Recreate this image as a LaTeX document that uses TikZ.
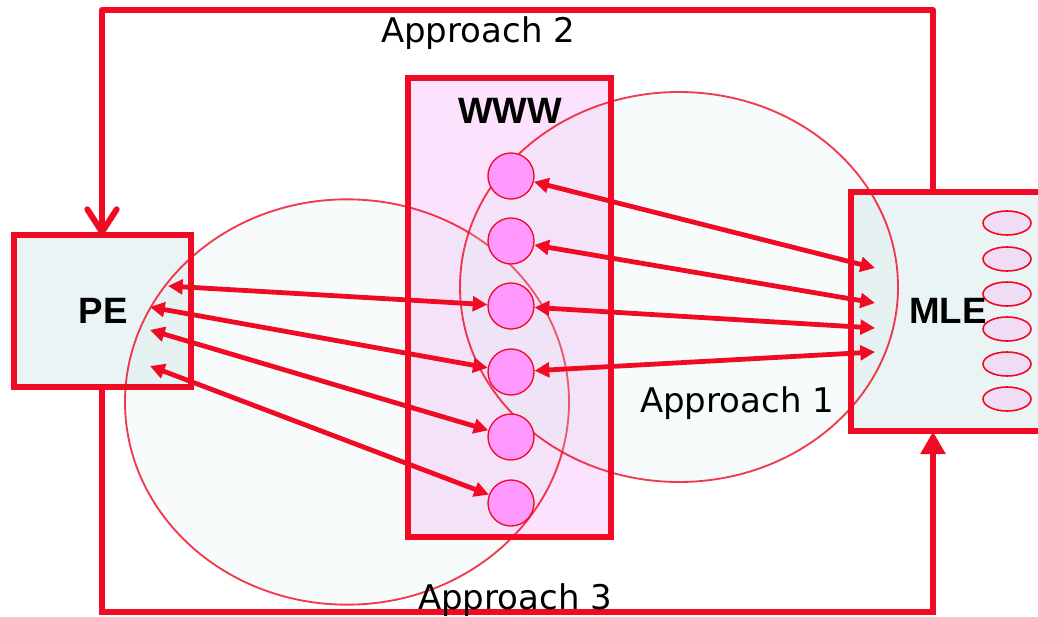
\documentclass[tikz,border=0pt]{standalone}
\usepackage{fontspec}
\setmainfont{DejaVu Sans}
\newfontfamily\boldfam{Liberation Sans}
\usetikzlibrary{arrows.meta,shapes.geometric}
\definecolor{rd}{RGB}{240,10,35}
\definecolor{boxfill}{RGB}{234,244,244}
\definecolor{wwwfill}{RGB}{252,226,252}
\definecolor{circfill}{RGB}{255,153,255}
\definecolor{smallfill}{RGB}{240,220,245}
\definecolor{bigfill}{RGB}{215,235,235}
\begin{document}
\begin{tikzpicture}[x=0.75pt,y=-0.75pt,
  boxnode/.style={rectangle, inner sep=0pt, outer sep=0pt, fill=#1},
  boxline/.style={draw=rd, line width=4.5pt},
  bigell/.style={draw=rd, draw opacity=0.8, line width=1.4pt, fill=bigfill, fill opacity=0.2},
  site/.style={circle, draw=rd, line width=1pt, fill=circfill, minimum size=34.5pt, inner sep=0pt},
  slot/.style={ellipse, draw=rd, line width=1.2pt, fill=smallfill, minimum width=36pt, minimum height=18pt, inner sep=0pt},
  link/.style={draw=rd, line width=3.6pt, {Triangle[length=11pt,width=11pt]}-{Triangle[length=11pt,width=11pt]}},
  loopline/.style={draw=rd, line width=4.5pt},
  heading/.style={font=\boldfam\bfseries\fontsize{27.5pt}{30pt}\selectfont, inner sep=0pt},
  lab/.style={font=\fontsize{25.5pt}{28pt}\selectfont, inner sep=0pt}
]
\useasboundingbox (0,0) rectangle (1038,617);
\clip (0,0) rectangle (1038,617);

% box fills
\node[boxnode=boxfill, minimum width=132.4pt, minimum height=114pt] (PE) at (102.25,311) {};
\node[boxnode=wwwfill, minimum width=151.9pt, minimum height=344.25pt] (WWW) at (509.25,307.5) {};
\node[boxnode=boxfill, minimum width=156.4pt, minimum height=179.6pt] (MLE) at (955.75,311.75) {};

% big ellipses
\path[bigell] (347,402) ellipse [x radius=166.5pt, y radius=152pt];
\path[bigell] (679,287) ellipse [x radius=164.25pt, y radius=146.25pt];

% box borders
\draw[boxline] (PE.south west) rectangle (PE.north east);
\draw[boxline] (WWW.south west) rectangle (WWW.north east);
\draw[boxline] (MLE.south west) rectangle (MLE.north east);

% sites
\foreach \i/\yy in {1/176,2/241,3/306,4/372,5/437,6/503}
  \node[site] (c\i) at (511,\yy) {};
\foreach \i/\yy in {1/223,2/259,3/294,4/329,5/364,6/399}
  \node[slot] (s\i) at (1007,\yy) {};

% arrow ends
\coordinate (p1) at (168,286);
\coordinate (p2) at (150,307);
\coordinate (p3) at (150,330);
\coordinate (p4) at (150,366);
\coordinate (m1) at (875,268);
\coordinate (m2) at (875,303);
\coordinate (m3) at (875,328);
\coordinate (m4) at (875,352);

\draw[link] (p1) -- (c3);
\draw[link] (p2) -- (c4);
\draw[link] (p3) -- (c5);
\draw[link] (p4) -- (c6);
\draw[link] (c1) -- (m1);
\draw[link] (c2) -- (m2);
\draw[link] (c3) -- (m3);
\draw[link] (c4) -- (m4);

% loops
\coordinate (a2r) at (933,10);
\coordinate (a2l) at (102,10);
\coordinate (a3l) at (102,612);
\coordinate (a3r) at (933,612);
\draw[loopline, line join=round, -{Straight Barb[length=17pt,width=22pt,round]}]
  (a2r |- MLE.north) -- (a2r) -- (a2l) -- (a2l |- PE.north);
\draw[loopline, -{Triangle[length=17pt,width=18pt]}]
  (a3l |- PE.south) -- (a3l) -- (a3r) -- (a3r |- MLE.south);

% texts
\node[heading] (tPE) at (103,311) {PE};
\node[heading] (tWWW) at (510,111) {WWW};
\node[heading] (tMLE) at (948,311) {MLE};
\node[lab] (ap2) at (478,33) {Approach 2};
\node[lab] (ap1) at (737,403) {Approach 1};
\node[lab] (ap3) at (515,600) {Approach 3};
\end{tikzpicture}
\end{document}
